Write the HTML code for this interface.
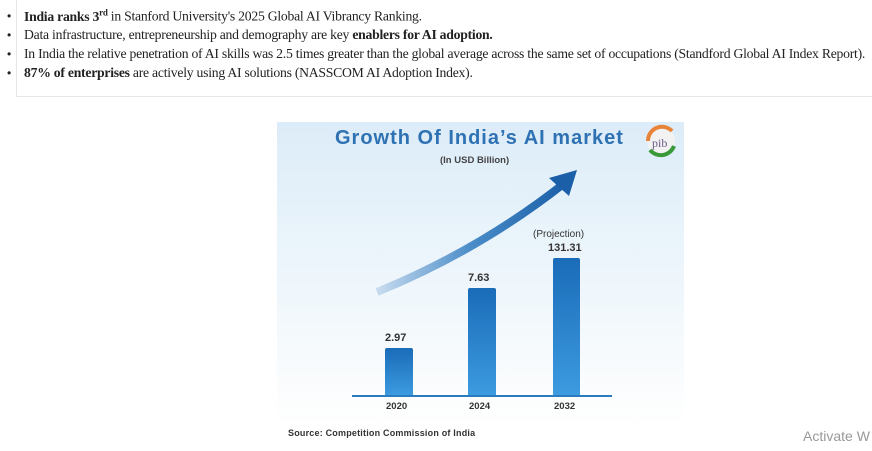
<!DOCTYPE html>
<html><head><style>
body{margin:0;width:872px;height:451px;background:#fff;position:relative;overflow:hidden;font-family:"Liberation Serif",serif;}
.panel{position:absolute;left:16px;top:0;width:856px;height:96px;border-left:1px solid #e6e6e6;border-bottom:1px solid #e6e6e6;}
.li{position:absolute;left:24px;font-size:13.7px;color:#222;white-space:nowrap;letter-spacing:-0.25px}
.b{position:absolute;left:7px;font-size:12px;color:#222;font-family:"Liberation Sans",sans-serif}
.s{position:absolute;font-family:"Liberation Sans",sans-serif;font-weight:bold;color:#333;}
</style></head><body>
<div class="panel"></div>
<div class="b" style="top:9px">•</div><div class="b" style="top:28px">•</div><div class="b" style="top:47px">•</div><div class="b" style="top:66px">•</div>
<div class="li" style="top:7px"><b>India ranks 3<sup style="font-size:9px">rd</sup></b> in Stanford University's 2025 Global AI Vibrancy Ranking.</div>
<div class="li" style="top:27px">Data infrastructure, entrepreneurship and demography are key <b>enablers for AI adoption.</b></div>
<div class="li" style="top:46px">In India the relative penetration of AI skills was 2.5 times greater than the global average across the same set of occupations (Standford Global AI Index Report).</div>
<div class="li" style="top:65px"><b>87% of enterprises</b> are actively using AI solutions (NASSCOM AI Adoption Index).</div>

<div style="position:absolute;left:277px;top:122px;width:407px;height:305px;background:linear-gradient(180deg,#dcecf8 0%,#eaf4fb 40%,#f8fbfd 80%,#fff 100%);"></div>
<svg style="position:absolute;left:0;top:0" width="872" height="451">
<defs><linearGradient id="b" x1="0" y1="0" x2="0" y2="1"><stop offset="0" stop-color="#1a6cb8"/><stop offset="1" stop-color="#3d9be0"/></linearGradient>
<linearGradient id="a" x1="0" y1="0" x2="1" y2="0"><stop offset="0" stop-color="#c8dcef"/><stop offset="0.5" stop-color="#4a8cc8"/><stop offset="1" stop-color="#1a5fa8"/></linearGradient></defs>
<path d="M377 292 Q480 250 566 182" stroke="url(#a)" stroke-width="8" fill="none"/>
<polygon points="577,170 549,178 569,196" fill="#1a5fa8"/>
<rect x="385" y="348" width="28" height="48" rx="2" fill="url(#b)"/>
<rect x="468" y="288" width="28" height="108" rx="2" fill="url(#b)"/>
<rect x="553" y="258" width="27" height="138" rx="2" fill="url(#b)"/>
<line x1="352" y1="396" x2="612" y2="396" stroke="#2a7bc0" stroke-width="2"/>
<circle cx="661" cy="141" r="14" fill="#f2f2f2"/>
<path d="M648 141 A14 14 0 0 1 672 131" stroke="#e8833a" stroke-width="4" fill="none"/>
<path d="M650 150 A14 14 0 0 0 674 146" stroke="#3a9a3a" stroke-width="4" fill="none"/>
<text x="652" y="147" font-family="Liberation Serif" font-size="12" fill="#6a5a8a">pib</text>
</svg>
<div class="s" style="left:335px;top:127px;font-size:20px;color:#2e72b4;letter-spacing:1px">Growth Of India’s AI market</div>
<div class="s" style="left:440px;top:155px;font-size:9.5px;color:#444">(In USD Billion)</div>
<div class="s" style="left:385px;top:332px;font-size:11px">2.97</div>
<div class="s" style="left:468px;top:272px;font-size:11px">7.63</div>
<div class="s" style="left:533px;top:229px;font-size:10px;font-weight:normal">(Projection)</div>
<div class="s" style="left:548px;top:242px;font-size:11px">131.31</div>
<div class="s" style="left:386px;top:401px;font-size:9.5px">2020</div>
<div class="s" style="left:469px;top:401px;font-size:9.5px">2024</div>
<div class="s" style="left:554px;top:401px;font-size:9.5px">2032</div>
<div class="s" style="left:288px;top:428px;font-size:9px;letter-spacing:0.2px">Source: Competition Commission of India</div>
<div style="position:absolute;left:803px;top:428px;font-family:'Liberation Sans',sans-serif;font-size:14px;color:#999">Activate W</div>
</body></html>
